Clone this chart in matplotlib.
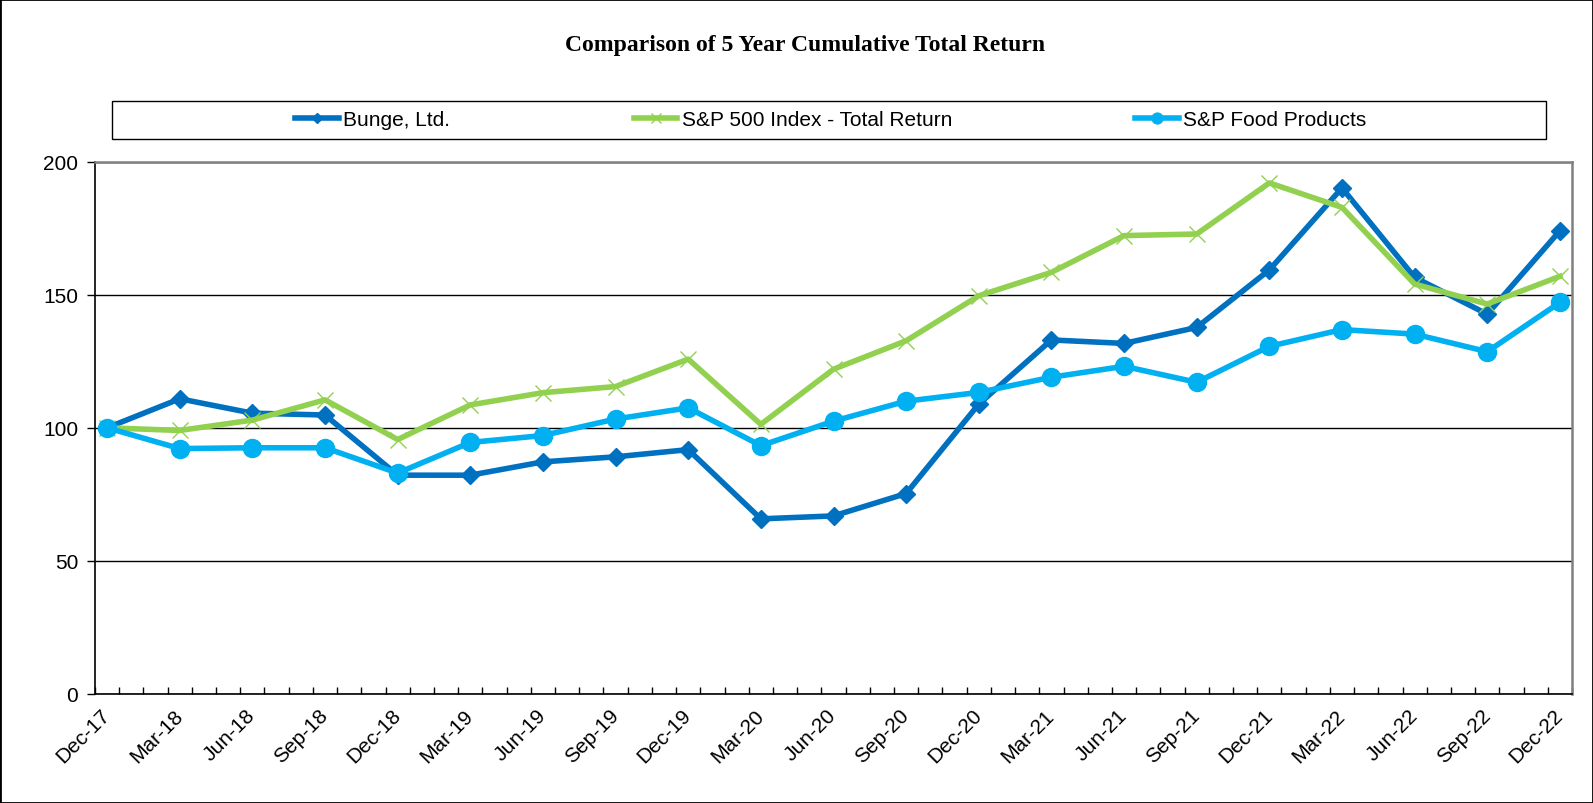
import numpy as np
import matplotlib.pyplot as plt
from matplotlib.patches import Rectangle

# quarter-end labels, one point per quarter (x axis runs in months)
quarters = ['Dec-17', 'Mar-18', 'Jun-18', 'Sep-18', 'Dec-18', 'Mar-19', 'Jun-19',
            'Sep-19', 'Dec-19', 'Mar-20', 'Jun-20', 'Sep-20', 'Dec-20', 'Mar-21',
            'Jun-21', 'Sep-21', 'Dec-21', 'Mar-22', 'Jun-22', 'Sep-22', 'Dec-22']

bunge = [100, 110.9, 105.5, 104.8, 82.2, 82.2, 87.2, 89.1, 91.8, 65.8, 66.9,
         75.3, 108.9, 133.0, 131.7, 137.7, 159.3, 190.1, 156.5, 142.7, 174.0]
sp500 = [100, 99.0, 102.9, 110.5, 95.6, 108.6, 113.2, 115.5, 125.8, 101.3, 122.0,
         132.7, 149.6, 158.4, 172.2, 172.8, 192.0, 182.8, 154.0, 146.5, 156.9]
food = [100, 92.2, 92.5, 92.5, 83.0, 94.5, 97.1, 103.3, 107.5, 93.3, 102.5,
        110.0, 113.3, 119.0, 123.1, 117.1, 130.6, 136.9, 135.2, 128.6, 147.1]

y_ticks = [0, 50, 100, 150, 200]

plt.rcParams['font.family'] = 'Liberation Sans'

fig = plt.figure(figsize=(15.93, 8.04), dpi=100)
ax = fig.add_axes([95 / 1593, 1 - 695 / 804, (1572 - 95) / 1593, (695 - 162.6) / 804])

x = np.arange(len(quarters)) * 3
ax.plot(x, bunge, color='#0070C0', lw=4, marker='D', ms=9, label='Bunge, Ltd.')
ax.plot(x, sp500, color='#92D050', lw=4, marker='x', ms=12, mew=1,
        label='S&P 500 Index - Total Return')
ax.plot(x, food, color='#00B0F0', lw=4, marker='o', ms=13, label='S&P Food Products')

ax.set_xlim(-0.5, 60.5)
ax.set_ylim(0, 200)
ax.set_yticks(y_ticks)
ax.yaxis.grid(True, color='black', lw=1)
ax.set_axisbelow(True)

ax.set_xticks(x)
ax.set_xticklabels(quarters, rotation=45, ha='right', va='center', rotation_mode='anchor')
ax.set_xticks(np.arange(-0.5, 61), minor=True)
ax.tick_params(axis='x', which='major', length=0, pad=13, labelsize=15)
ax.tick_params(axis='x', which='minor', direction='in', length=5, width=1, color='black')
ax.tick_params(axis='y', direction='out', length=6, width=1, labelsize=15, pad=6)

for s in ['left', 'bottom']:
    ax.spines[s].set_color('black')
    ax.spines[s].set_linewidth(1.2)
for s in ['top', 'right']:
    ax.spines[s].set_color('#808080')
    ax.spines[s].set_linewidth(1.8)

fig.text(805 / 1593, 1 - 45 / 804, 'Comparison of 5 Year Cumulative Total Return',
         family='Liberation Serif', weight='bold', fontsize=17, ha='center', va='center')

# legend box
fig.patches.append(Rectangle((112 / 1593, 1 - 140 / 804), (1546 - 112) / 1593, 38 / 804,
                             transform=fig.transFigure, fill=False, ec='black', lw=1))
ax.legend(loc='center', bbox_to_anchor=(831 / 1593, 1 - 121 / 804),
          bbox_transform=fig.transFigure, ncol=3, frameon=False, fontsize=15,
          columnspacing=8.8, handlelength=2.1, handletextpad=0.2, markerscale=0.6)

# outer border
fig.patches.append(Rectangle((0, 0), 1, 1, transform=fig.transFigure,
                             fill=False, ec='black', lw=2))

fig.savefig('out.png', dpi=100)
